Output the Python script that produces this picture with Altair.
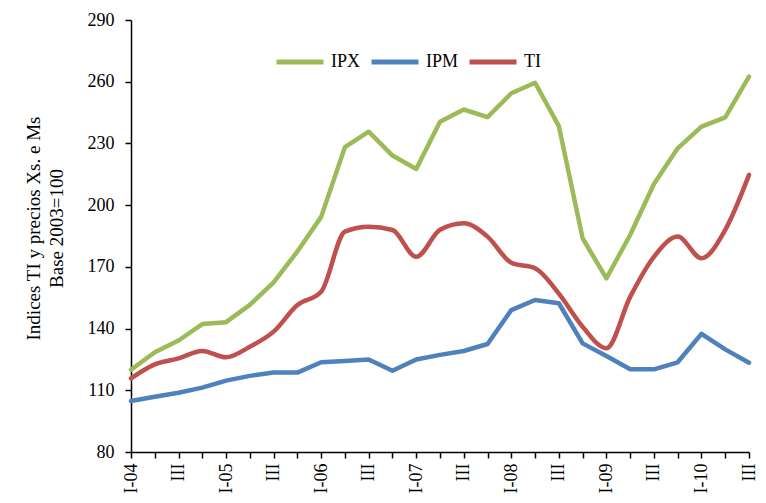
import altair as alt
import pandas as pd

quarters = [
    "I-04", "II-04", "III-04", "IV-04",
    "I-05", "II-05", "III-05", "IV-05",
    "I-06", "II-06", "III-06", "IV-06",
    "I-07", "II-07", "III-07", "IV-07",
    "I-08", "II-08", "III-08", "IV-08",
    "I-09", "II-09", "III-09", "IV-09",
    "I-10", "II-10", "III-10",
]
tick_labels = [
    "I-04", "", "III", "",
    "I-05", "", "III", "",
    "I-06", "", "III", "",
    "I-07", "", "III", "",
    "I-08", "", "III", "",
    "I-09", "", "III", "",
    "I-10", "", "III",
]
ipx = [120.0, 128.5, 134.2, 142.2, 143.1, 151.5, 162.5, 177.5, 194.3, 228.2, 235.7, 224.1, 217.6,
       240.5, 246.5, 242.8, 254.4, 259.5, 238.4, 183.9, 164.4, 185.5, 210.3, 227.6, 238.2, 242.7, 262.5]
ipm = [104.8, 106.9, 108.8, 111.3, 114.7, 117.0, 118.6, 118.6, 123.6, 124.2, 125.0, 119.5, 125.0,
       127.2, 129.1, 132.5, 149.0, 153.9, 152.3, 132.8, 126.7, 120.2, 120.2, 123.6, 137.4, 129.9, 123.4]
ti = [115.8, 122.6, 125.5, 129.1, 126.0, 131.2, 138.5, 151.5, 157.9, 187.1, 189.5, 187.9, 174.9,
      188.0, 191.2, 184.7, 172.0, 169.3, 157.0, 140.9, 130.4, 155.4, 174.9, 184.7, 174.2, 188.0, 214.7]

series = ["IPX", "IPM", "TI"]
colors = ["#9BBB59", "#4F81BD", "#C0504D"]
y_ticks = [80, 110, 140, 170, 200, 230, 260, 290]
y_title = ["Indices TI y precios Xs. e Ms", "Base 2003=100"]

rows = []
for q, a, b, c in zip(quarters, ipx, ipm, ti):
    rows.append({"q": q, "serie": "IPX", "v": a})
    rows.append({"q": q, "serie": "IPM", "v": b})
    rows.append({"q": q, "serie": "TI", "v": c})
df = pd.DataFrame(rows)

label_map = "{" + ",".join(f"'{q}':'{t}'" for q, t in zip(quarters, tick_labels)) + "}"
label_expr = f"{label_map}[datum.value]"

FONT = "Liberation Serif"

x = alt.X(
    "q:N", sort=quarters,
    scale=alt.Scale(type="point", padding=0),
    axis=alt.Axis(title=None, labelAngle=-90, labelExpr=label_expr, labelPadding=5,
                  labelAlign="right", labelBaseline="middle"),
)
y = alt.Y(
    "v:Q",
    scale=alt.Scale(domain=[80, 290], nice=False, zero=False),
    axis=alt.Axis(values=y_ticks, title=y_title, titleAngle=-90, titleX=-98, titleY=208,
                  titleAlign="center", titleBaseline="middle", titleLineHeight=23,
                  titleFontSize=19, labelPadding=11),
)
color = alt.Color(
    "serie:N", sort=series,
    scale=alt.Scale(domain=series, range=colors),
    legend=alt.Legend(orient="none", legendX=143, legendY=16, direction="horizontal",
                      title=None, symbolType="stroke", symbolSize=2209, symbolStrokeWidth=5,
                      labelFont=FONT, labelFontSize=18, labelColor="black",
                      columnPadding=0, labelOffset=5),
)

base = alt.Chart(df).encode(x=x, y=y, color=color)
straight = base.transform_filter("datum.serie != 'TI'").mark_line(
    strokeWidth=4.5, strokeCap="round", strokeJoin="round")
smooth = base.transform_filter("datum.serie == 'TI'").mark_line(
    strokeWidth=4.5, interpolate="monotone", strokeCap="round", strokeJoin="round")

chart = (
    alt.layer(straight, smooth)
    .properties(
        width=618, height=432,
        autosize=alt.AutoSizeParams(type="none"),
        padding={"left": 123, "top": 12, "right": 9, "bottom": 43},
    )
    .configure_view(stroke=None)
    .configure_axis(
        grid=False, domainColor="black", domainWidth=1.5, tickColor="black", tickWidth=1.5,
        tickSize=6, labelFont=FONT, labelFontSize=18, labelColor="black",
        titleFont=FONT, titleFontSize=18, titleFontWeight="normal", titleColor="black",
    )
)

chart.save("out.html", embed_options={"renderer": "svg", "actions": False})
